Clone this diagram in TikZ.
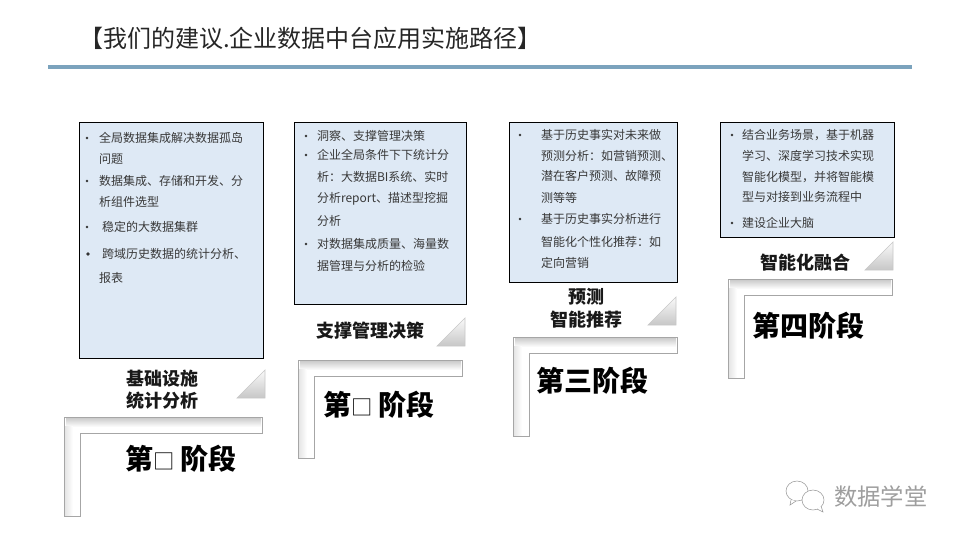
\documentclass[tikz,border=0pt]{standalone}
\usepackage{fontspec}
\usepackage{xcolor}
\setmainfont{Noto Sans CJK SC}
\usetikzlibrary{positioning, shapes.geometric}
\definecolor{boxblue}{HTML}{DEE9F5}
\definecolor{rulblue}{HTML}{7BA3BD}
\def\tofubox{{\fontsize{16}{18}\mdseries\selectfont □}\hspace{4pt}}
\begin{document}
\begin{tikzpicture}[
  x=0.75pt, y=-0.75pt,
  every node/.style={inner sep=0pt, outer sep=0pt},
  titletext/.style={anchor=west, font=\fontsize{18}{20}\selectfont, text=black!85},
  bodytext/.style={anchor=west, font=\fontsize{9}{11}\selectfont, text=black!78},
  phasetext/.style={font=\fontsize{13.5}{16}\selectfont\bfseries, text=black!90},
  stagetext/.style={font=\fontsize{21}{24}\selectfont\bfseries, text=black},
  markdot/.style={fill=black!80},
  infobox/.style={draw=black, line width=0.7pt, fill=boxblue},
  cornertri/.style={draw=black!22, line width=0.5pt, top color=black!2, middle color=black!6, bottom color=black!22},
  markbubble/.style={draw=black!40, fill=white, line width=0.4pt}
]
\useasboundingbox (0,0) rectangle (960,540);
% Title and rule
\node[titletext] (title) at (79,38) {【我们的建议.企业数据中台应用实施路径】};
\draw[rulblue, line width=2.6pt] (48,67) -- (912,67);
% Text boxes
\draw[infobox] (79,122) rectangle (263,358);
\draw[infobox] (294,122) rectangle (466,304);
\draw[infobox] (509,122) rectangle (677,282);
\draw[infobox] (720,122) rectangle (894,237);
% Box 1
\foreach \tx/\ty/\ttext [count=\i] in {
  99/138/全局数据集成解决数据孤岛, 99/159/问题,
  99/181/数据集成、存储和开发、分, 99/202/析组件选型,
  102/227/稳定的大数据集群,
  102/254/跨域历史数据的统计分析、, 99/278/报表}{
  \node[bodytext] (lineA\i) at (\tx,\ty) {\ttext};
}
% Box 2
\foreach \ty/\ttext [count=\i] in {
  136/洞察、支撑管理决策, 155/企业全局条件下下统计分,
  177/析：大数据BI系统、实时, 199/分析report、描述型挖掘,
  221/分析, 244/对数据集成质量、海量数, 266/据管理与分析的检验}{
  \node[bodytext] (lineB\i) at (317,\ty) {\ttext};
}
% Box 3
\foreach \ty/\ttext [count=\i] in {
  135/基于历史事实对未来做, 156/预测分析：如营销预测、,
  176/潜在客户预测、故障预, 198/测等等,
  219/基于历史事实分析进行, 242/智能化个性化推荐：如, 263/定向营销}{
  \node[bodytext] (lineC\i) at (541,\ty) {\ttext};
}
% Box 4
\foreach \ty/\ttext [count=\i] in {
  135/结合业务场景，基于机器, 156/学习、深度学习技术实现,
  177/智能化模型，并将智能模, 197/型与对接到业务流程中, 223/建设企业大脑}{
  \node[bodytext] (lineD\i) at (742,\ty) {\ttext};
}
% Bullets
\foreach \bx/\by in {87/138,87/181,87/227,306/136,306/155,306/244,520/135,520/219,732/135,732/223}
  \fill[markdot] (\bx,\by) circle (1.3);
\fill[markdot] (88,254) circle (1.9);
% Corner triangles
\foreach \tx/\ty in {265/370,465/318,676/297,893/242}
  \shadedraw[cornertri] (\tx,\ty) -- (\tx-28,\ty+28) -- (\tx,\ty+28) -- cycle;
% Stair shapes: left/top/right/bottom
\foreach \lx/\ly/\rx/\by in {64/417/262/516,298/360/462/458,513/337/677/436,728/279/892/378}{
  \fill[white] (\lx,\ly) -- (\rx,\ly) -- (\rx,\ly+16) -- (\lx+16,\ly+16) -- (\lx+16,\by) -- (\lx,\by) -- cycle;
  \shade[top color=black!20, bottom color=white] (\lx+2,\ly+1) rectangle (\rx-1,\ly+10);
  \shade[left color=black!10, right color=white] (\lx+1,\ly+9) rectangle (\lx+9,\by-1);
  \draw[black!35, line width=0.6pt] (\lx,\ly) -- (\rx,\ly) -- (\rx,\ly+16) -- (\lx+16,\ly+16) -- (\lx+16,\by) -- (\lx,\by) -- cycle;
}
% Phase labels
\node[phasetext] (phaseA1) at (162,379) {基础设施};
\node[phasetext] (phaseA2) at (162,401) {统计分析};
\node[phasetext] (phaseB) at (370,331) {支撑管理决策};
\node[phasetext] (phaseC1) at (586,297) {预测};
\node[phasetext] (phaseC2) at (586,320) {智能推荐};
\node[phasetext] (phaseD) at (805,263) {智能化融合};
% Stage labels
\node[stagetext] (stageA) at (181,459) {第\tofubox 阶段};
\node[stagetext] (stageB) at (379,405) {第\tofubox 阶段};
\node[stagetext] (stageC) at (592,381) {第三阶段};
\node[stagetext] (stageD) at (808,326) {第四阶段};
% Watermark
\draw[markbubble] (797,491) ellipse (11 and 10);
\draw[markbubble] (791,500) -- (790,505) -- (796,501);
\draw[markbubble] (813,500) ellipse (11 and 10);
\draw[markbubble] (817,509) -- (823,512) -- (821,506);
\node[anchor=west, font=\fontsize{17.5}{20}\selectfont, text=black!38] (mark) at (834,497) {数据学堂};
\end{tikzpicture}
\end{document}
